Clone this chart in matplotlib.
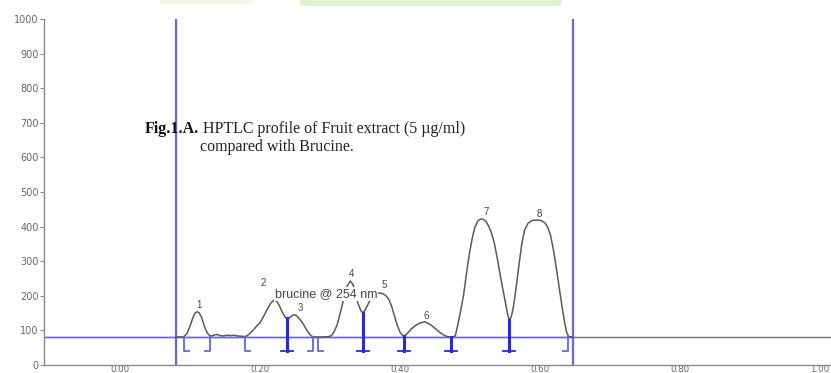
import matplotlib
matplotlib.use("Agg")
import matplotlib.pyplot as plt
import matplotlib.patches as patches
import numpy as np

# densitogram trace (Rf, AU)
rf = [0.080, 0.088, 0.092, 0.096, 0.100, 0.104, 0.107, 0.110, 0.113, 0.116,
      0.119, 0.122, 0.125, 0.128, 0.131, 0.135, 0.139, 0.143, 0.148, 0.153,
      0.158, 0.163, 0.168, 0.173, 0.179, 0.184, 0.190, 0.195, 0.200, 0.205,
      0.210, 0.215, 0.220, 0.224, 0.228, 0.232, 0.236, 0.240, 0.244, 0.248,
      0.252, 0.257, 0.262, 0.267, 0.272, 0.276, 0.283, 0.290, 0.298, 0.302,
      0.306, 0.310, 0.314, 0.318, 0.322, 0.325, 0.329, 0.333, 0.336, 0.340,
      0.344, 0.347, 0.351, 0.355, 0.359, 0.364, 0.369, 0.374, 0.379, 0.384,
      0.388, 0.392, 0.396, 0.400, 0.405, 0.410, 0.416, 0.422, 0.428, 0.435,
      0.441, 0.447, 0.453, 0.459, 0.465, 0.470, 0.475, 0.479, 0.483, 0.487,
      0.491, 0.495, 0.499, 0.503, 0.507, 0.511, 0.515, 0.519, 0.523, 0.527,
      0.531, 0.535, 0.539, 0.543, 0.547, 0.551, 0.554, 0.556, 0.559, 0.562,
      0.566, 0.570, 0.574, 0.578, 0.583, 0.589, 0.595, 0.601, 0.607, 0.611,
      0.615, 0.619, 0.623, 0.627, 0.631, 0.635, 0.638, 0.641, 0.647]
au = [81, 81, 83, 92, 112, 136, 150, 154, 151, 140,
      122, 104, 92, 85, 84, 87, 88, 85, 84, 86,
      85, 86, 84, 83, 82, 88, 100, 112, 122, 140,
      160, 178, 188, 184, 170, 152, 138, 133, 140, 145,
      143, 132, 118, 100, 86, 81, 81, 81, 82, 85,
      97, 115, 145, 178, 210, 230, 243, 232, 210, 178,
      158, 150, 162, 178, 192, 203, 208, 207, 202, 190,
      170, 143, 115, 95, 82, 90, 104, 114, 121, 125,
      120, 111, 101, 91, 84, 81, 81, 84, 120, 160,
      205, 265, 320, 365, 398, 416, 422, 421, 414, 400,
      380, 350, 308, 262, 218, 176, 145, 128, 140, 168,
      225, 290, 350, 390, 410, 418, 419, 418, 411, 398,
      375, 335, 285, 230, 175, 125, 95, 82, 81]

baseline = 81
window = [0.080, 0.647]

# integration marks: position and kind (start / end / split)
mark_rf = [0.0914, 0.1286, 0.1786, 0.2386, 0.2757, 0.2829, 0.3471, 0.4057, 0.4729, 0.5557, 0.640]
mark_kind = ["start", "end", "start", "split", "end", "start", "split", "split", "split", "split", "end"]

# peak numbers
peak_ids = ["1", "2", "3", "4", "5", "6", "7", "8"]
peak_lx = [0.113, 0.204, 0.257, 0.331, 0.377, 0.437, 0.523, 0.599]
peak_ly = [172, 238, 165, 262, 232, 141, 443, 435]

W, H = 831, 373
fig = plt.figure(figsize=(W / 100, H / 100), dpi=100)
ax = fig.add_axes([44 / W, 8 / H, 1 - 44 / W, (365 - 19) / H])

grey = "#8a8a8a"
blue = "#6464e6"
dark_blue = "#2a2ad8"

ax.set_xlim((44 - 120) / 700, (831 - 120) / 700)
ax.set_ylim(0, 1000)

# baseline and window
ax.axhline(baseline, color="#707070", lw=1.0, zorder=1)
ax.plot([ax.get_xlim()[0], window[1]], [baseline, baseline], color=blue, lw=1.0, zorder=2)
for xv in window:
    ax.axvline(xv, color=blue, lw=1.6, zorder=2)

ax.plot(rf, au, color="#5a5a5a", lw=1.1, zorder=3)

# integration marks under the baseline
bottom = 40
foot = 0.007
for xm, kind in zip(mark_rf, mark_kind):
    if kind == "start":
        ax.plot([xm + foot, xm, xm], [bottom, bottom, baseline], color=blue, lw=1.3, zorder=4)
    elif kind == "end":
        ax.plot([xm - foot, xm, xm], [bottom, bottom, baseline], color=blue, lw=1.3, zorder=4)
    else:
        top = np.interp(xm, rf, au)
        ax.plot([xm, xm], [bottom, top], color=dark_blue, lw=2.2, zorder=4)
        ax.plot([xm - 0.009, xm + 0.009], [bottom, bottom], color=dark_blue, lw=1.3, zorder=4)

for lab, lx, ly in zip(peak_ids, peak_lx, peak_ly):
    ax.text(lx, ly, lab, ha="center", va="center", fontsize=7,
            family="Liberation Sans", color="#444444", zorder=6)

ax.text(0.221, 205, "brucine @ 254 nm", ha="left", va="center", fontsize=9,
        family="Liberation Sans", color="#444444", zorder=5,
        bbox=dict(facecolor="white", edgecolor="none", pad=0.5))

# axes styling
for s in ["top", "right"]:
    ax.spines[s].set_visible(False)
for s in ["left", "bottom"]:
    ax.spines[s].set_color(grey)
    ax.spines[s].set_linewidth(1.0)
ax.set_yticks(np.arange(0, 1001, 100))
ax.set_xticks([0.0, 0.2, 0.4, 0.6, 0.8, 1.0])
ax.set_xticklabels(["0.00", "0.20", "0.40", "0.60", "0.80", "1.00"])
ax.tick_params(axis="y", length=3, width=0.8, color=grey, labelsize=7,
               labelcolor="#666666", pad=1)
ax.tick_params(axis="x", length=0, labelsize=6.2, labelcolor="#666666", pad=0)

# caption pasted over the chart
fig.canvas.draw()
r = fig.canvas.get_renderer()
t1 = fig.text(145 / W, 1 - 133 / H, "Fig.1.A.", fontsize=11.5, fontweight="bold",
              family="Liberation Serif", color="#111111", va="baseline")
bb = t1.get_window_extent(renderer=r)
fig.text(bb.x1 / W, 1 - 133 / H, " HPTLC profile of Fruit extract (5 µg/ml)", fontsize=11.5,
         family="Liberation Serif", color="#222222", va="baseline")
fig.text(200 / W, 1 - 151 / H, "compared with Brucine.", fontsize=11.5,
         family="Liberation Serif", color="#222222", va="baseline")

# faint green page header at the top edge
fig.patches.append(patches.Rectangle((300 / W, 1 - 5 / H), 260 / W, 5 / H,
                                     transform=fig.transFigure, color="#e0f1d4", zorder=0))
fig.patches.append(patches.Rectangle((160 / W, 1 - 3 / H), 90 / W, 3 / H,
                                     transform=fig.transFigure, color="#eef7e8", zorder=0))

fig.savefig("out.png", dpi=100)
